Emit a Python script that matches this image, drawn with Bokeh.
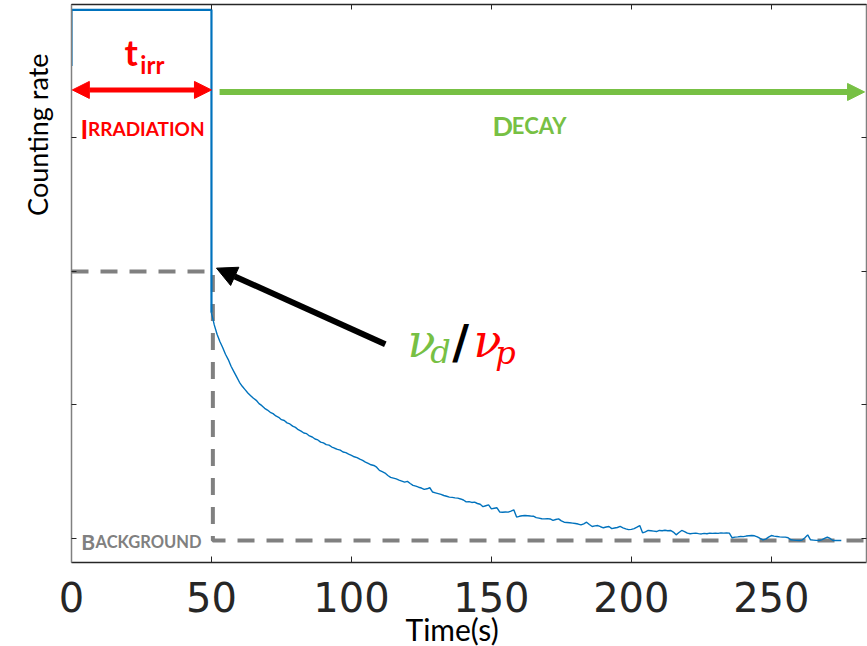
import numpy as np
from bokeh.plotting import figure
from bokeh.models import (Range1d, LinearAxis, FixedTicker, CustomJSTickFormatter,
                          Label, Arrow, NormalHead, Title)
from bokeh.embed import file_html
from bokeh.resources import INLINE

# ---------------- data ----------------
t_irr = 50
irr_time = [0, 0, 50, 50]
irr_rate = [3.54, 3.96, 3.96, 1.69]

decay_time = list(range(50, 276))
decay_rate = [
    1.69, 1.60, 1.53, 1.475, 1.43, 1.38, 1.34, 1.29, 1.25, 1.21,
    1.17, 1.14, 1.115, 1.09, 1.07, 1.05, 1.035, 1.01, 0.995, 0.975,
    0.962, 0.945, 0.935, 0.918, 0.908, 0.89, 0.884, 0.866, 0.858, 0.842,
    0.832, 0.815, 0.804, 0.79, 0.785, 0.768, 0.76, 0.745, 0.738, 0.722,
    0.716, 0.703, 0.699, 0.685, 0.676, 0.668, 0.662, 0.648, 0.643, 0.632,
    0.622, 0.612, 0.606, 0.594, 0.585, 0.572, 0.562, 0.552, 0.547, 0.534,
    0.51, 0.50, 0.49, 0.472, 0.458, 0.452, 0.446, 0.437, 0.43, 0.422,
    0.428, 0.412, 0.398, 0.392, 0.384, 0.378, 0.368, 0.372, 0.38, 0.348,
    0.342, 0.336, 0.33, 0.322, 0.316, 0.31, 0.308, 0.304, 0.302, 0.296,
    0.288, 0.274, 0.276, 0.27, 0.272, 0.262, 0.256, 0.238, 0.245, 0.252,
    0.222, 0.226, 0.23, 0.198, 0.196, 0.198, 0.197, 0.205, 0.215, 0.16,
    0.166, 0.17, 0.172, 0.17, 0.168, 0.167, 0.156, 0.152, 0.148, 0.147,
    0.149, 0.146, 0.136, 0.142, 0.147, 0.132, 0.122, 0.12, 0.118, 0.115,
    0.112, 0.108, 0.102, 0.11, 0.122, 0.105, 0.09, 0.094, 0.097, 0.088,
    0.08, 0.086, 0.09, 0.074, 0.078, 0.082, 0.09, 0.08, 0.072, 0.066,
    0.068, 0.074, 0.085, 0.097, 0.042, 0.05, 0.06, 0.058, 0.055, 0.052,
    0.06, 0.058, 0.062, 0.058, 0.06, 0.048, 0.027, 0.045, 0.06, 0.052,
    0.04, 0.035, 0.038, 0.04, 0.036, 0.034, 0.038, 0.035, 0.04, 0.038,
    0.04, 0.038, 0.042, 0.04, 0.042, 0.04, 0.005, 0.01, 0.012, 0.015,
    0.014, 0.018, 0.02, 0.022, 0.02, 0.012, 0.0, -0.01, -0.005, 0.01,
    0.022, 0.018, 0.015, 0.012, 0.01, 0.01, 0.005, -0.01, -0.012, -0.014,
    -0.015, -0.012, 0.005, 0.027, -0.01, -0.012, -0.014, -0.015, -0.01, 0.0,
    0.01, 0.0, -0.015, -0.014, -0.015, -0.015,
]

background = -0.015
ratio_level = 2.0
x_ticks = [0, 50, 100, 150, 200, 250]
y_ticks = [0, 1, 2, 3, 4]

ref_time = [0, 50.5, 50.5, 284]
ref_rate = [ratio_level, ratio_level, background, background]

BLUE = "#0072BD"
RED = "#FF0000"
GREEN = "#77C044"
GRAY = "#808080"
DARK = "#262626"

# ---------------- figure ----------------
p = figure(width=867, height=646, x_range=Range1d(0, 284), y_range=Range1d(-0.18, 4.0),
           output_backend="svg", toolbar_location=None,
           x_axis_location=None, y_axis_location=None,
           min_border_left=71, min_border_right=1, min_border_top=4, min_border_bottom=84)
p.title.visible = False
p.grid.visible = False
p.outline_line_color = None
p.background_fill_color = "white"
p.border_fill_color = "white"

empty = CustomJSTickFormatter(code="return ''")

xb = LinearAxis(ticker=FixedTicker(ticks=x_ticks), major_tick_in=6, major_tick_out=0,
                minor_tick_line_color=None, axis_line_color=DARK, axis_line_width=1.5,
                major_tick_line_color=DARK, major_label_text_font="DejaVu Sans",
                major_label_text_font_size="40px", major_label_text_color=DARK,
                major_label_standoff=19)
p.add_layout(xb, "below")
xt = LinearAxis(ticker=FixedTicker(ticks=x_ticks), major_tick_in=5, major_tick_out=0,
                minor_tick_line_color=None, axis_line_color=DARK, axis_line_width=1.5,
                major_tick_line_color=DARK, formatter=empty, major_label_standoff=0)
p.add_layout(xt, "above")
yl = LinearAxis(ticker=FixedTicker(ticks=y_ticks), major_tick_in=5, major_tick_out=0,
                minor_tick_line_color=None, axis_line_color=GRAY, axis_line_width=1.5,
                major_tick_line_color=DARK, formatter=empty, major_label_standoff=0)
p.add_layout(yl, "left")
yr = LinearAxis(ticker=FixedTicker(ticks=y_ticks), major_tick_in=5, major_tick_out=0,
                minor_tick_line_color=None, axis_line_color=GRAY, axis_line_width=1.5,
                major_tick_line_color=DARK, formatter=empty, major_label_standoff=0)
p.add_layout(yr, "right")

# axis titles (as titles so they can be offset like the reference)
p.add_layout(Title(text="Counting rate", align="right", offset=49, standoff=35,
                   text_font="Lato", text_font_size="27px", text_font_style="normal",
                   text_color="black"), "left")
p.add_layout(Title(text="Time(s)", align="left", offset=334, standoff=-12,
                   text_font="Lato", text_font_size="30px", text_font_style="normal",
                   text_color="black"), "below")

# reference dashed lines
p.line(ref_time, ref_rate, line_color=GRAY, line_width=4, line_dash="17 12")

# counting rate
p.line(irr_time, irr_rate, line_color=BLUE, line_width=2.2)
p.line(decay_time, decay_rate, line_color=BLUE, line_width=1.4)

# arrows
p.add_layout(Arrow(start=NormalHead(size=17, fill_color=RED, line_color=RED),
                   end=NormalHead(size=17, fill_color=RED, line_color=RED),
                   x_start=0.3, y_start=3.36, x_end=t_irr, y_end=3.36,
                   line_color=RED, line_width=5))
p.add_layout(Arrow(end=NormalHead(size=17, fill_color=GREEN, line_color=GREEN),
                   x_start=52.9, y_start=3.345, x_end=283.3, y_end=3.345,
                   line_color=GREEN, line_width=6))
p.add_layout(Arrow(end=NormalHead(size=20, fill_color="black", line_color="black"),
                   x_start=112.1, y_start=1.455, x_end=51.8, y_end=2.025,
                   line_color="black", line_width=6))

def lab(x, y, text, font="Lato", size="20px", color="black", style="normal",
        align="left", baseline="alphabetic", angle=0):
    p.add_layout(Label(x=x, y=y, text=text, text_font=font, text_font_size=size,
                       text_color=color, text_font_style=style, text_align=align,
                       text_baseline=baseline, angle=angle))

# t_irr
lab(18.9, 3.643, "t", size="36px", color=RED, style="bold")
lab(24.6, 3.551, "irr", size="24px", color=RED, style="bold")
# IRRADIATION (small caps)
lab(3.2, 3.068, "I", size="26px", color=RED, style="bold")
lab(5.9, 3.068, "RRADIATION", size="19px", color=RED, style="bold")
# DECAY
lab(150.4, 3.095, "D", size="27px", color=GREEN, style="bold")
lab(157.3, 3.095, "ECAY", size="22px", color=GREEN, style="bold")
# BACKGROUND
lab(3.5, -0.023, "B", size="21px", color=GRAY, style="bold")
lab(8.6, -0.023, "ACKGROUND", size="16.5px", color=GRAY, style="bold")

# nu_d / nu_p
lab(120.0, 1.478, "ν", font="DejaVu Serif", size="46px", color=GREEN, style="italic")
lab(128.2, 1.395, "d", font="DejaVu Serif", size="32px", color=GREEN, style="italic")
lab(136.0, 1.47, "/", font="DejaVu Serif", size="46px", color="black", style="bold")
lab(143.6, 1.478, "ν", font="DejaVu Serif", size="46px", color=RED, style="italic")
lab(151.4, 1.388, "p", font="DejaVu Serif", size="32px", color=RED, style="italic")

open("out.html", "w").write(file_html(p, INLINE))
